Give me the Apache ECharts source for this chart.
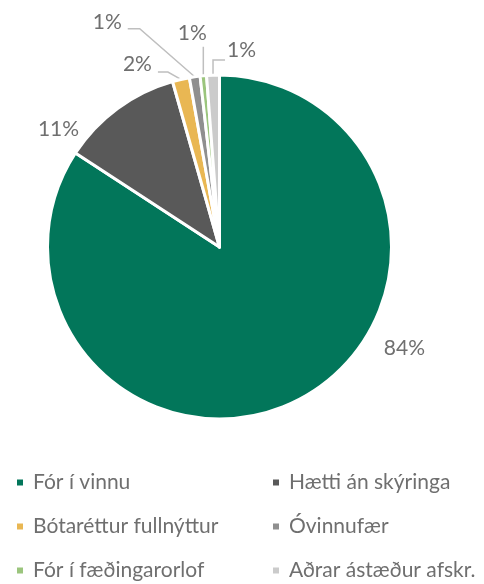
<!DOCTYPE html>
<html>
<head>
<meta charset="utf-8">
<script src="https://cdn.jsdelivr.net/npm/echarts@6/dist/echarts.min.js"></script>
<style>
  html, body { margin: 0; padding: 0; background: #fff; }
  #chart { width: 484px; height: 584px; }
</style>
</head>
<body>
<div id="chart"></div>
<script>
// Reasons for leaving the register (share of total, %)
const categories = ['Fór í vinnu', 'Hætti án skýringa', 'Bótaréttur fullnýttur', 'Óvinnufær', 'Fór í fæðingarorlof', 'Aðrar ástæður afskr.']
const shares = [84.2, 11.4, 1.6, 1.0, 0.6, 1.2]

const COLORS = ['#02765a', '#595959', '#e9b753', '#8f8f8f', '#9bc57d', '#cbcbcb']
const TEXT_COLOR = '#6f6f6f'
const FONT = 'Lato, "DejaVu Sans", sans-serif'

const CX = 219.5
const CY = 247
const R = 172

// label placement relative to the slice's outer mid point
const LABEL_PLACE = [
  { dx: 103, dy: -50, align: 'center', line: null },
  { dx: -59, dy: 21, align: 'center', line: null },
  { dx: -29, dy: -15, align: 'right', line: [[-13, -7.4], [-23, -7.4]] },
  { dx: -73, dy: -55, align: 'right', line: [[-55, -48], [-67, -48]] },
  { dx: -11, dy: -43, align: 'center', line: [[0, -29]] },
  { dx: 14, dy: -25, align: 'left', line: [[0, -15], [12, -15]] },
]

// mid angle of each slice, clockwise from 12 o'clock
const total = shares.reduce((a, b) => a + b, 0)
const midAngles = []
let acc = 0
shares.forEach((v) => {
  midAngles.push(((acc + v / 2) / total) * 2 * Math.PI)
  acc += v
})

const chart = echarts.init(document.getElementById('chart'), null, { renderer: 'canvas' })

const legendCommon = {
  orient: 'vertical',
  top: 467,
  height: 120,
  icon: 'rect',
  itemWidth: 8,
  itemHeight: 8,
  itemGap: 23,
  selectedMode: false,
  textStyle: { color: TEXT_COLOR, fontSize: 21, fontFamily: FONT, lineHeight: 21, padding: [0, 0, 0, 4] },
}

chart.setOption({
  animation: false,
  color: COLORS,
  legend: [
    Object.assign({ left: 10, data: [categories[0], categories[2], categories[4]] }, legendCommon),
    Object.assign({ left: 266, data: [categories[1], categories[3], categories[5]] }, legendCommon),
  ],
  series: [
    {
      type: 'pie',
      center: [CX, CY],
      radius: R,
      startAngle: 90,
      clockwise: true,
      avoidLabelOverlap: false,
      emphasis: { disabled: true },
      itemStyle: { borderColor: '#fff', borderWidth: 3 },
      label: {
        show: true,
        position: 'outside',
        color: TEXT_COLOR,
        fontSize: 21,
        fontFamily: FONT,
        formatter: (p) => Math.round(p.percent) + '%',
      },
      labelLine: { show: true, lineStyle: { color: '#bfbfbf', width: 1.5 } },
      labelLayout: (params) => {
        const i = params.dataIndex
        const a = midAngles[i]
        const px = CX + R * Math.sin(a)
        const py = CY - R * Math.cos(a)
        const pl = LABEL_PLACE[i]
        const out = {
          x: px + pl.dx,
          y: py + pl.dy,
          align: pl.align,
          verticalAlign: 'middle',
        }
        if (pl.line) {
          out.labelLinePoints = [[px, py]].concat(pl.line.map((d) => [px + d[0], py + d[1]]))
        }
        return out
      },
      data: categories.map((name, i) => ({
        name,
        value: shares[i],
        labelLine: { show: LABEL_PLACE[i].line !== null },
      })),
    },
  ],
})
</script>
</body>
</html>
